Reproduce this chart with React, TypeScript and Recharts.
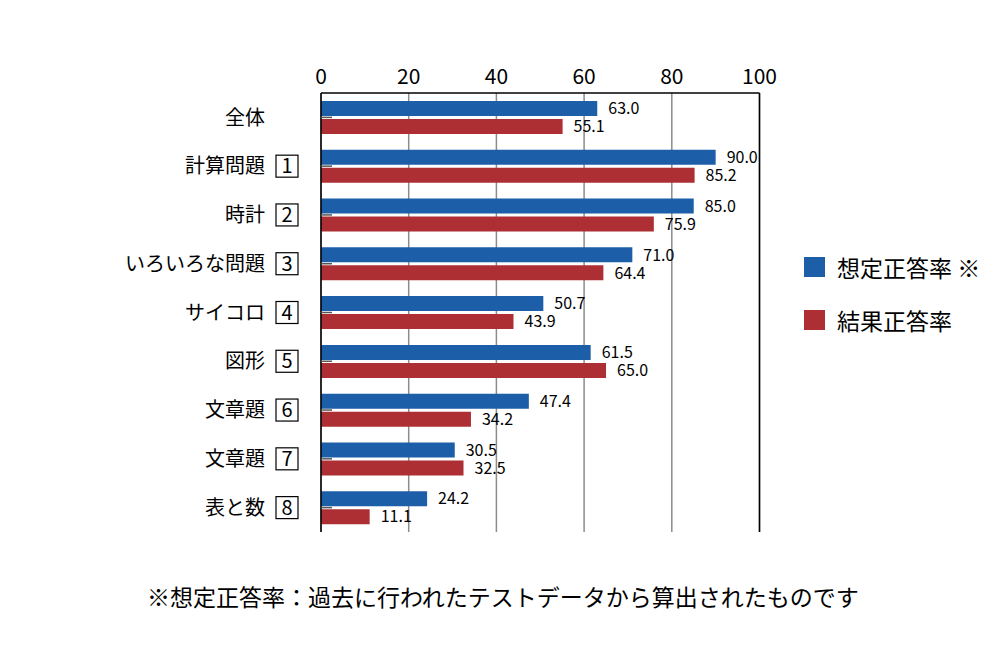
import React from 'react';
import { BarChart, Bar, XAxis, YAxis, CartesianGrid, LabelList, ReferenceLine } from 'recharts';

const categories = ['全体', '計算問題', '時計', 'いろいろな問題', 'サイコロ', '図形', '文章題', '文章題', '表と数'];
const boxNumbers = ['', '1', '2', '3', '4', '5', '6', '7', '8'];
const expectedRates = [63.0, 90.0, 85.0, 71.0, 50.7, 61.5, 47.4, 30.5, 24.2];
const actualRates = [55.1, 85.2, 75.9, 64.4, 43.9, 65.0, 34.2, 32.5, 11.1];
const seriesNames = ['想定正答率 ※', '結果正答率'];
const seriesColors = ['#1c5ea7', '#ae2f33'];
const xTicks = [0, 20, 40, 60, 80, 100];
const footnote = '※想定正答率：過去に行われたテストデータから算出されたものです';

const FONT = '"Noto Sans CJK JP", "Noto Sans", sans-serif';

const data = categories.map((c, i) => ({
  id: String(i),
  name: c,
  expected: expectedRates[i],
  actual: actualRates[i],
}));

const Y_MARGIN = 56;

function XTick(props: any) {
  const { x, y, payload } = props;
  return (
    <text x={x} y={y} textAnchor="middle" fontSize={21} fontFamily={FONT} fill="#000">
      {payload.value}
    </text>
  );
}

function YTick(props: any) {
  const { x, y, payload } = props;
  const i = Number(payload.value);
  const axisX = x + Y_MARGIN;
  const box = boxNumbers[i];
  return (
    <g>
      <line x1={axisX} x2={axisX + 11} y1={y} y2={y} stroke="#555" strokeWidth={1.5} />
      <text x={x} y={y} dy="0.36em" textAnchor="end" fontSize={20} fontFamily={FONT} fill="#000">
        {categories[i]}
      </text>
      {box ? (
        <g>
          <rect x={x + 11} y={y - 11} width={22} height={22} fill="none" stroke="#000" strokeWidth={1.2} />
          <text x={x + 22} y={y} dy="0.36em" textAnchor="middle" fontSize={20} fontFamily={FONT} fill="#000">
            {box}
          </text>
        </g>
      ) : null}
    </g>
  );
}

function LegendBlock() {
  return (
    <div style={{ position: 'absolute', left: 804, top: 257, fontFamily: FONT }}>
      {seriesNames.map((n, i) => (
        <div key={n} style={{ display: 'flex', alignItems: 'center', height: 20, marginBottom: 32.5 }}>
          <div style={{ width: 21, height: 20, background: seriesColors[i] }} />
          <span style={{ marginLeft: 12, fontSize: 23, lineHeight: '20px', color: '#000', whiteSpace: 'nowrap' }}>{n}</span>
        </div>
      ))}
    </div>
  );
}

const fmt = (v: any) => Number(v).toFixed(1);

export default function App() {
  return (
    <div style={{ position: 'absolute', left: 0, top: 0, width: 1000, height: 660, background: '#fff' }}>
      <BarChart
        width={1000}
        height={660}
        data={data}
        layout="vertical"
        margin={{ top: 63, right: 240.5, bottom: 128, left: 0 }}
        barSize={15}
        barGap={3}
      >
        <CartesianGrid horizontal={false} stroke="#8c8c8c" strokeWidth={1.5} />
        <XAxis
          type="number"
          orientation="top"
          domain={[0, 100]}
          ticks={xTicks}
          height={30}
          tickSize={0}
          tickMargin={9}
          tickLine={false}
          axisLine={{ stroke: '#000', strokeWidth: 1.5 }}
          tick={<XTick />}
          interval={0}
        />
        <YAxis
          type="category"
          dataKey="id"
          width={321}
          tickSize={0}
          tickMargin={Y_MARGIN}
          tickLine={false}
          axisLine={{ stroke: '#000', strokeWidth: 1.5 }}
          tick={<YTick />}
          interval={0}
        />
        <ReferenceLine x={100} stroke="#000" strokeWidth={1.5} />
        <Bar dataKey="expected" name={seriesNames[0]} fill={seriesColors[0]} isAnimationActive={false}>
          <LabelList dataKey="expected" position="right" offset={11} formatter={fmt} fontSize={16} fontFamily={FONT} fill="#000" />
        </Bar>
        <Bar dataKey="actual" name={seriesNames[1]} fill={seriesColors[1]} isAnimationActive={false}>
          <LabelList dataKey="actual" position="right" offset={11} formatter={fmt} fontSize={16} fontFamily={FONT} fill="#000" />
        </Bar>
      </BarChart>
      <LegendBlock />
      <div
        style={{
          position: 'absolute',
          left: 147,
          top: 580,
          fontFamily: FONT,
          fontSize: 23,
          lineHeight: '32px',
          color: '#000',
          whiteSpace: 'nowrap',
        }}
      >
        {footnote}
      </div>
    </div>
  );
}
